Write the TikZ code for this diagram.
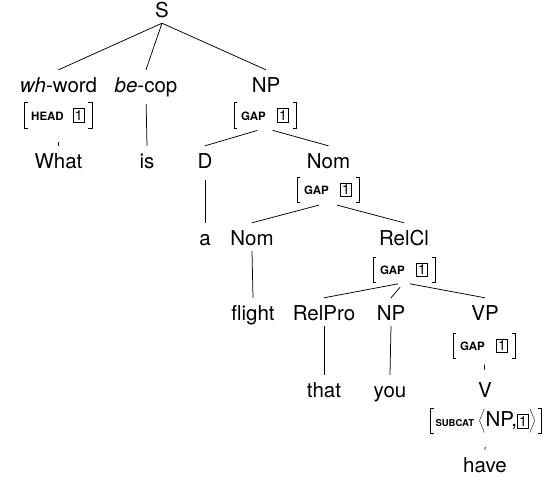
\documentclass[tikz,border=0pt]{standalone}
\usepackage{fontspec}
\setmainfont{TeX Gyre Heros}

% boxed index tag, e.g. [1]
\newcommand\tagbox[1]{{\setlength\fboxsep{1.4pt}\setlength\fboxrule{0.7pt}\fbox{\fontsize{14}{14}\selectfont #1}}}
% feature name in an attribute-value matrix
\newcommand\feat[1]{{\fontsize{11.5}{11.5}\selectfont\bfseries #1}}
% tall angle brackets round a list value
\newcommand\anglelist[1]{$\left\langle\vrule height 17pt depth 7pt width 0pt\mbox{#1}\right\rangle$}
% square brackets round an attribute-value matrix node
\newcommand\avmbrackets[1]{%
  \draw[branch] ([xshift=3.5pt]#1.north west) -| (#1.south west) -- ++(3.5pt,0);
  \draw[branch] ([xshift=-3.5pt]#1.north east) -| (#1.south east) -- ++(-3.5pt,0);}

\tikzset{
  cat/.style={anchor=base, font=\fontsize{20.5}{24}\selectfont,
    text height=18pt, text depth=2pt, inner ysep=4pt, inner xsep=2pt},
  avm/.style={font=\fontsize{20.5}{24}\selectfont, minimum height=25pt,
    inner ysep=0pt, inner xsep=7pt},
  branch/.style={line width=0.75pt},
}

\begin{document}
\begin{tikzpicture}[x=1pt, y=-1pt]
\useasboundingbox (0,0) rectangle (549,483);

% categories and words
\node[cat] (S)      at (162,17)   {S};
\node[cat] (wh)     at (58.5,92)  {\textit{wh}-word};
\node[cat] (be)     at (146,92)   {\textit{be}-cop};
\node[cat] (np1)    at (266,92)   {NP};
\node[cat] (what)   at (58.5,168) {What};
\node[cat] (is)     at (147,168)  {is};
\node[cat] (d)      at (205,168)  {D};
\node[cat] (nom1)   at (328.5,168){Nom};
\node[cat] (a)      at (205,245)  {a};
\node[cat] (nom2)   at (252,245)  {Nom};
\node[cat] (relcl)  at (404,245)  {RelCl};
\node[cat] (flight) at (253,320)  {flight};
\node[cat] (relpro) at (324,320)  {RelPro};
\node[cat] (np2)    at (391,320)  {NP};
\node[cat] (vp)     at (485,320)  {VP};
\node[cat] (that)   at (324,397)  {that};
\node[cat] (you)    at (390,397)  {you};
\node[cat] (v)      at (485,397)  {V};
\node[cat] (have)   at (485,472)  {have};

% feature structures
\node[avm] (headavm)  at (58,115.5)  {\feat{HEAD}\hspace{9pt}\tagbox{1}};
\node[avm] (np1avm)   at (265,115.5) {\feat{GAP}\hspace{11pt}\tagbox{1}};
\node[avm] (nom1avm)  at (328,190)   {\feat{GAP}\hspace{11pt}\tagbox{1}};
\node[avm] (relclavm) at (404,270)   {\feat{GAP}\hspace{11pt}\tagbox{1}};
\node[avm] (vpavm)    at (484,346)   {\feat{GAP}\hspace{11pt}\tagbox{1}};
\node[avm, inner xsep=4.5pt] (vavm) at (486,421)
  {{\fontsize{9.5}{9.5}\selectfont\bfseries SUBCAT}\hspace{4pt}\anglelist{NP,\tagbox{1}}};

\foreach \m in {headavm,np1avm,nom1avm,relclavm,vpavm,vavm}{\avmbrackets{\m}}

% branches
\draw[branch] (S.south) -- (wh.north);
\draw[branch] (S.south) -- (be.north);
\draw[branch] (S.south) -- (np1.north);
\draw[branch, shorten <=14pt] (headavm.south) -- (what.north);
\draw[branch, shorten <=6pt] (be.south) -- (is.north);
\draw[branch, shorten <=8pt] (np1avm.south) -- (d.north);
\draw[branch, shorten <=8pt] (np1avm.south) -- (nom1.north);
\draw[branch, shorten <=6pt] (d.south) -- (a.north);
\draw[branch, shorten <=9pt] (nom1avm.south) -- (nom2.north);
\draw[branch, shorten <=9pt] (nom1avm.south) -- (relcl.north);
\draw[branch] (nom2.south) -- (flight.north);
\draw[branch, shorten <=6pt] (relclavm.south) -- (relpro.north);
\draw[branch, shorten <=6pt] (relclavm.south) -- (np2.north);
\draw[branch, shorten <=6pt] (relclavm.south) -- (vp.north);
\draw[branch] (relpro.south) -- (that.north);
\draw[branch] (np2.south) -- (you.north);
\draw[branch, shorten <=6pt, shorten >=5pt] (vpavm.south) -- (v.north);
\draw[branch, shorten <=13.5pt] (vavm.south) -- (have.north);
\end{tikzpicture}
\end{document}
